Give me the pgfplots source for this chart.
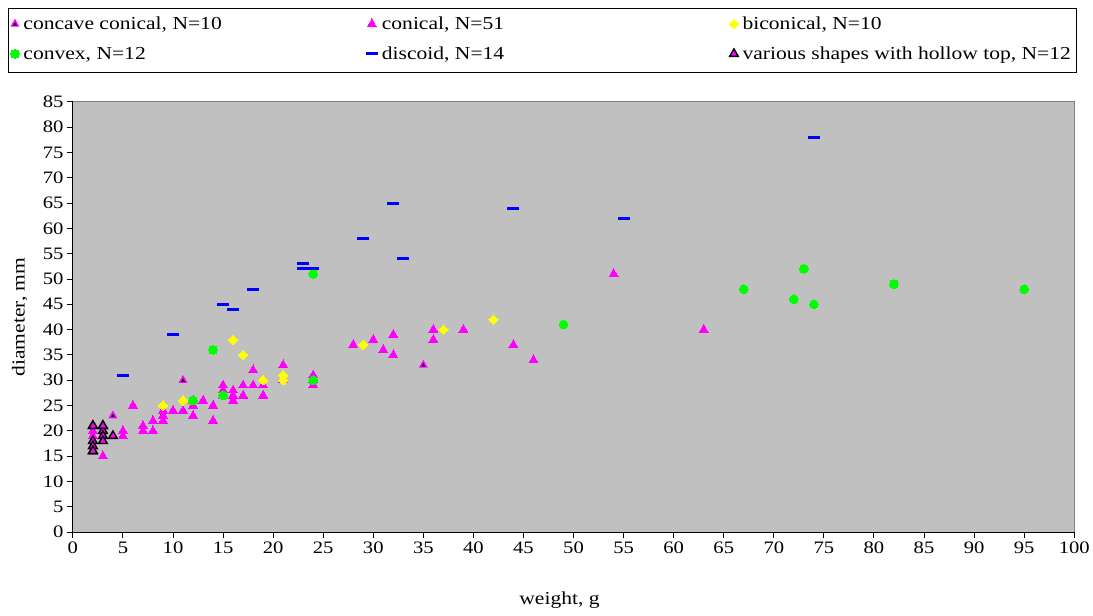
\documentclass[border=0pt]{standalone}
\usepackage{fontspec}
\setmainfont{Liberation Serif}[FakeStretch=1.18]
\usepackage{pgfplots}
\pgfplotsset{compat=1.18}
\definecolor{plotgray}{RGB}{192,192,192}
\definecolor{bordergray}{RGB}{128,128,128}
\definecolor{mag}{RGB}{255,0,255}
\definecolor{yel}{RGB}{255,255,0}
\definecolor{grn}{RGB}{0,255,0}
\definecolor{blu}{RGB}{0,0,255}
\pgfdeclareplotmark{concave}{%
  \pgfpathmoveto{\pgfqpoint{0pt}{\pgfplotmarksize}}%
  \pgfpathlineto{\pgfqpoint{-0.866\pgfplotmarksize}{-0.5\pgfplotmarksize}}%
  \pgfpathlineto{\pgfqpoint{0.866\pgfplotmarksize}{-0.5\pgfplotmarksize}}%
  \pgfpathclose
  \pgfsetfillcolor{mag}%
  \pgfusepathqfill
  \pgfpathmoveto{\pgfqpoint{0pt}{0.35\pgfplotmarksize}}%
  \pgfpathlineto{\pgfqpoint{-0.35\pgfplotmarksize}{-0.3\pgfplotmarksize}}%
  \pgfpathlineto{\pgfqpoint{0.35\pgfplotmarksize}{-0.3\pgfplotmarksize}}%
  \pgfpathclose
  \pgfsetfillcolor{black}%
  \pgfusepathqfill
}
\newcommand{\lfont}{\fontsize{18.3bp}{22bp}\selectfont}
\newcommand{\tfont}{\fontsize{17.5bp}{21bp}\selectfont}
\begin{document}
\begin{tikzpicture}
\begin{axis}[
  scale only axis, width=1003bp, height=431bp,
  xmin=0, xmax=100, ymin=0, ymax=85,
  xtick={0,5,...,100}, ytick={0,5,...,85},
  axis x line*=bottom, axis y line*=left,
  axis line style={black, line width=1bp, -},
  tick align=outside, major tick length=6bp,
  tick style={black, line width=1bp},
  axis background/.style={fill=plotgray, draw=bordergray, line width=0.8bp},
  /pgf/number format/assume math mode=true,
  tick label style={font=\tfont},
  xlabel={weight, g}, ylabel={diameter, mm},
  label style={font=\lfont},
  xlabel style={at={(axis description cs:0.486,-0.158)}, anchor=center},
  ylabel style={at={(axis description cs:-0.053,0.5)}, anchor=center, rotate=0},
  legend columns=3,
  legend cell align=left,
  legend style={at={(-0.0648,1.2181)}, anchor=north west, draw=black, line width=1bp, fill=white,
    inner xsep=2bp, inner ysep=2bp, column sep=0pt, row sep=0pt,
    nodes={inner xsep=4bp, inner ysep=7bp, text height=12bp, text depth=4bp, font=\lfont}},
  legend image code/.code={\path[draw=none,fill=none] (0bp,0bp) (8bp,0bp); \draw[#1] plot coordinates {(4bp,1.5bp)};},
]
\addplot[only marks, mark=concave, mark size=5.2bp] coordinates {
(4,23) (11,30) (35,33) (16,27) (2,20) (3,20) (2,19) (15,28) (24,30) (9,23)};
\addlegendentry{\makebox[339bp][l]{concave conical, N=10}}
\addplot[only marks, mark=triangle*, mark size=5.2bp, mark options={fill=mag, draw=mag, line width=0pt}] coordinates {
(3,15) (2,19) (2,20) (5,20) (5,19) (6,25) (7,21) (7,20) (8,22) (8,20)
(9,24) (9,23) (9,22) (10,24) (11,24) (12,25) (12,23) (13,26) (14,25) (14,22)
(15,29) (15,28) (16,28) (16,26) (17,29) (17,27) (18,32) (18,29) (19,27) (19,29)
(21,33) (24,31) (24,29) (28,37) (30,38) (31,36) (32,39) (32,35) (36,40) (36,38)
(39,40) (44,37) (46,34) (54,51) (63,40) (3,20) (15,27) (12,26) (16,27) (24,30) (21,30)};
\addlegendentry{\makebox[344bp][l]{conical, N=51}}
\addplot[only marks, mark=square*, mark size=3.3bp, mark options={rotate=45, fill=yel, draw=yel, line width=0pt}] coordinates {
(9,25) (11,26) (16,38) (17,35) (19,30) (21,31) (21,30) (29,37) (37,40) (42,42)};
\addlegendentry{\makebox[322bp][l]{biconical, N=10}}
\addplot[only marks, mark=*, mark size=4.4bp, mark options={fill=grn, draw=grn, line width=0pt}] coordinates {
(12,26) (14,36) (15,27) (24,51) (24,30) (49,41) (67,48) (72,46) (73,52) (74,45) (82,49) (95,48)};
\addlegendentry{convex, N=12}
\addplot[only marks, mark=-, mark size=6bp, mark options={draw=blu, line width=3bp}] coordinates {
(5,31) (10,39) (15,45) (16,44) (18,48) (23,53) (23,52) (24,52) (29,58) (32,65) (33,54) (44,64) (55,62) (74,78)};
\addlegendentry{discoid, N=14}
\addplot[only marks, mark=triangle*, mark size=5bp, mark options={fill=mag, draw=black, line width=1.4bp}] coordinates {
(2,21) (2,18) (2,17) (2,16) (3,21) (3,20) (3,19) (3,18) (4,19) (2,21) (3,21) (2,16)};
\addlegendentry{various shapes with hollow top, N=12}
\end{axis}
\path ([shift={(-73bp,-84bp)}]current axis.south west) rectangle ([shift={(17bp,102bp)}]current axis.north east);
\end{tikzpicture}
\end{document}
